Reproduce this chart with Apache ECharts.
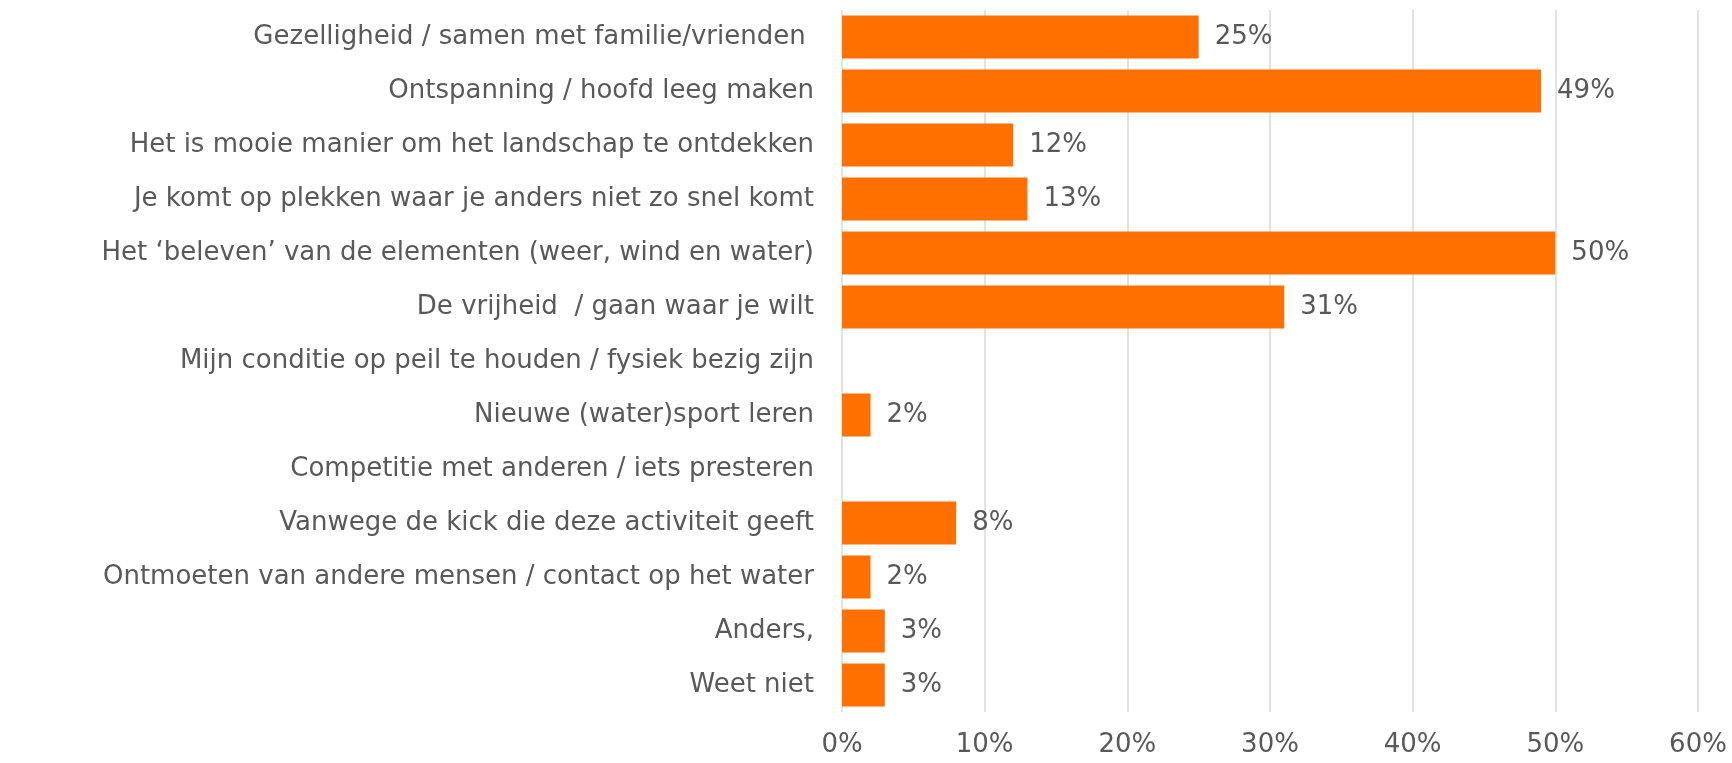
<!doctype html>
<html>
	<head>
		<meta charset="utf-8">
		<title>Motieven</title>
		<script src="https://cdn.jsdelivr.net/npm/echarts@6/dist/echarts.min.js"></script>
		<style>
			html, body { margin: 0; padding: 0; background: #fff; }
			#chart { width: 1732px; height: 763px; }
		</style>
	</head>
	<body>
		<div id="chart"></div>
		<script type="text/javascript">
			// categorieen van boven naar beneden
			var categories = [
				'Gezelligheid / samen met familie/vrienden ',
				'Ontspanning / hoofd leeg maken',
				'Het is mooie manier om het landschap te ontdekken',
				'Je komt op plekken waar je anders niet zo snel komt',
				'Het \u2018beleven\u2019 van de elementen (weer, wind en water)',
				'De vrijheid  / gaan waar je wilt',
				'Mijn conditie op peil te houden / fysiek bezig zijn',
				'Nieuwe (water)sport leren',
				'Competitie met anderen / iets presteren',
				'Vanwege de kick die deze activiteit geeft',
				'Ontmoeten van andere mensen / contact op het water',
				'Anders,',
				'Weet niet'
			];
			// percentages, '-' = geen waarde
			var values = [25, 49, 12, 13, 50, 31, '-', 2, '-', 8, 2, 3, 3];
			var xTicks = [0, 10, 20, 30, 40, 50, 60];

			var font = 'DejaVu Sans';
			var textColor = '#595959';
			var myChart = echarts.init(document.getElementById('chart'));
			var option = {
				animation: false,
				grid: {
					left: 842,
					right: 34,
					top: 10,
					bottom: 51
				},
				xAxis: {
					type: 'value',
					min: xTicks[0],
					max: xTicks[xTicks.length - 1],
					interval: 10,
					axisLine: { show: false },
					axisTick: { show: false },
					splitLine: { lineStyle: { color: '#d9d9d9', width: 1.5 } },
					axisLabel: {
						formatter: '{value}%',
						color: textColor,
						fontFamily: font,
						fontSize: 26,
						margin: 20
					}
				},
				yAxis: {
					type: 'category',
					inverse: true,
					data: categories,
					axisLine: { show: false },
					axisTick: { show: false },
					axisLabel: {
						color: textColor,
						fontFamily: font,
						fontSize: 26,
						margin: 28
					}
				},
				series: [{
					type: 'bar',
					data: values,
					barCategoryGap: '20%',
					itemStyle: { color: '#ff7000' },
					label: {
						show: true,
						position: 'right',
						distance: 16,
						formatter: '{c}%',
						color: textColor,
						fontFamily: font,
						fontSize: 26
					}
				}]
			};
			myChart.setOption(option);
		</script>
	</body>
</html>
